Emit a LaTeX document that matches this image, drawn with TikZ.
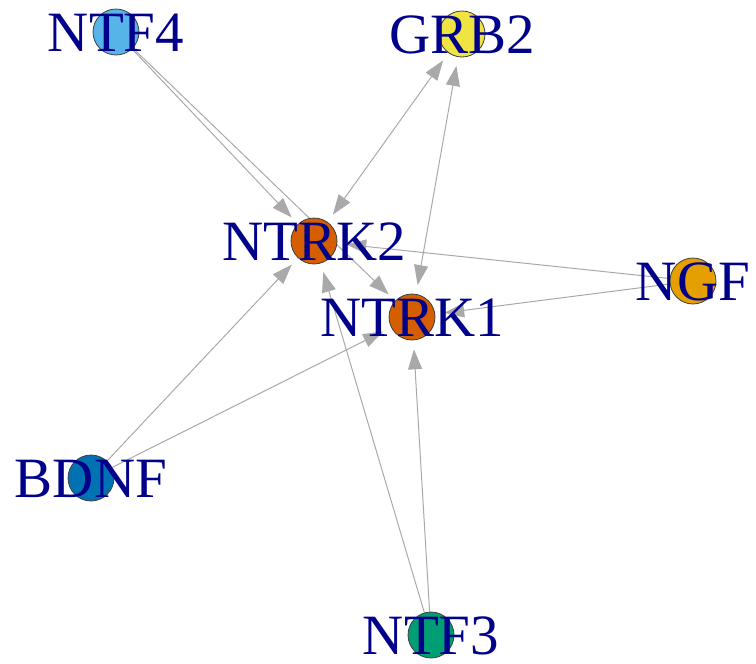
\documentclass[tikz,border=0pt]{standalone}
\usepackage{fontspec}
\setmainfont{Liberation Serif}
\usetikzlibrary{arrows.meta,backgrounds}
\definecolor{skyblue}{HTML}{56B4E9}
\definecolor{yellowish}{HTML}{F0E442}
\definecolor{vermil}{HTML}{D55E00}
\definecolor{orangeish}{HTML}{E69F00}
\definecolor{blueish}{HTML}{0072B2}
\definecolor{greenish}{HTML}{009E73}
\definecolor{edgegray}{HTML}{A9A9A9}
\definecolor{labelblue}{HTML}{00008B}

\begin{document}
\begin{tikzpicture}[x=1pt,y=-1pt]
    \tikzset{vertex/.style = {shape=circle,draw=black!75,line width=0.8pt,fill=#1,minimum size=46pt,inner sep=0pt}}
    \tikzset{edge/.style = {draw=edgegray,line width=1pt,shorten >=9pt,-{Triangle[length=20pt,width=14pt]}}}
    \tikzset{twoway/.style = {edge,shorten <=9pt,{Triangle[length=20pt,width=14pt]}-{Triangle[length=20pt,width=14pt]}}}
    \tikzset{vtxtext/.style = {text=labelblue,font=\fontsize{57}{57}\selectfont,text height=38pt,text depth=0pt,inner sep=0pt}}
    \useasboundingbox (0,0) rectangle (756,664);
    \node[vertex=skyblue] (ntf4) at (116,32) {}; \node[vertex=yellowish] (grb2) at (462,34) {};
    \node[vertex=vermil] (ntrk2) at (314,241) {}; \node[vertex=vermil] (ntrk1) at (412,317) {};
    \node[vertex=orangeish] (ngf) at (693,281) {}; \node[vertex=blueish] (bdnf) at (91,478) {};
    \node[vertex=greenish] (ntf3) at (431,635) {};
    \begin{scope}[on background layer]
    \draw[edge] (ntf4) -- (ntrk2); \draw[edge] (ntf4) -- (ntrk1);
    \draw[twoway] (ntrk2) -- (grb2); \draw[twoway] (ntrk1) -- (grb2);
    \draw[edge] (ngf) -- (ntrk2); \draw[edge] (ngf) -- (ntrk1);
    \draw[edge] (bdnf) -- (ntrk2); \draw[edge] (bdnf) -- (ntrk1);
    \draw[edge] (ntf3) -- (ntrk2); \draw[edge] (ntf3) -- (ntrk1);
    \end{scope}
    \node[vtxtext] at (ntf4) {NTF4}; \node[vtxtext] at (grb2) {GRB2};
    \node[vtxtext] at (ntrk2) {NTRK2}; \node[vtxtext] at (ntrk1) {NTRK1};
    \node[vtxtext] at (ngf) {NGF}; \node[vtxtext] at (bdnf) {BDNF};
    \node[vtxtext] at (ntf3) {NTF3};
  \end{tikzpicture}
\end{document}
